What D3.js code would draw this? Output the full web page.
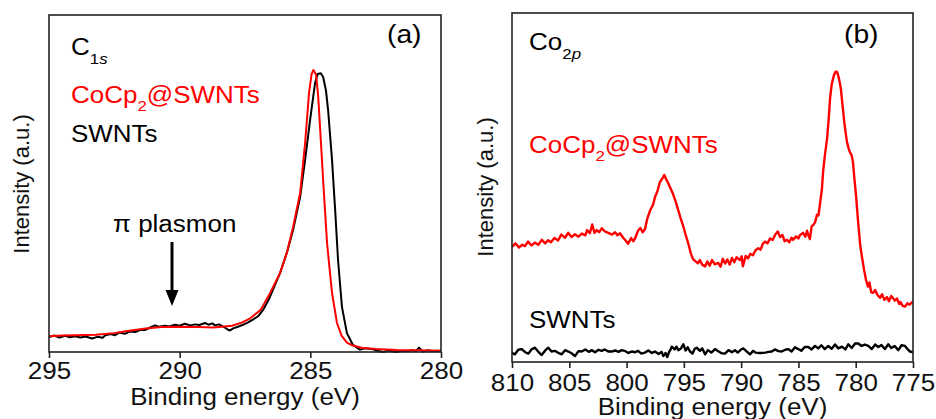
<!DOCTYPE html>
<html>
<head>
<meta charset="utf-8">
<script src="https://cdn.jsdelivr.net/npm/d3@7"></script>
<style>
  html, body { margin: 0; padding: 0; background: #fff; }
  svg { display: block; font-family: "Liberation Sans", Arial, sans-serif; }
  .tick text { fill: #111; }
</style>
</head>
<body>
<svg id="fig" width="936" height="419"></svg>
<script>
// ============================================================================
//  XPS spectra — (a) C1s, (b) Co2p — CoCp2@SWNTs vs SWNTs
//  values: [binding energy eV, intensity a.u.]
// ============================================================================
const ticksA = [295, 290, 285, 280];
const ticksB = [810, 805, 800, 795, 790, 785, 780, 775];

const c1sCoCp2 = [[295,4.7],[294.5,4.9],[294,5.0],[293.2,5.1],[292.5,5.6],[292,6.2],[291.3,7.0],[290.7,7.4],[290,7.5],
  [289.3,7.4],[288.7,7.3],[288,7.8],[287.6,8.8],[287.3,10.0],[286.9,12.5],[286.54,17.5],[286.16,23.4],[285.9,29.4],
  [285.66,37.1],[285.39,47.2],[285.2,62.0],[285.05,76.9],[284.95,82.5],[284.88,83.7],[284.78,82.3],[284.7,76],
  [284.63,66.8],[284.48,47.2],[284.36,32.3],[284.17,17.5],[283.98,8.6],[283.8,4.8],[283.6,2.8],[283.4,2.0],[283,1.2],
  [282.5,0.9],[281.7,0.6],[281,0.5],[280,0.4]];

const c1sSWNT = [[295,4.4],[294.8,4.9],[294.6,4.3],[294.39,4.8],[294.2,4.4],[294.0,4.7],[293.8,4.3],[293.6,4.6],
  [293.35,4.0],[293.15,4.5],[292.95,4.2],[292.86,4.9],[292.65,5.3],[292.47,5.0],[292.3,5.8],[292.1,5.4],[291.9,6.1],
  [291.7,5.9],[291.5,6.6],[291.33,6.5],[291.15,7.2],[290.94,7.9],[290.8,7.5],[290.56,7.8],[290.4,7.6],[290.18,8.1],
  [290.0,7.8],[289.8,8.4],[289.6,7.9],[289.41,8.2],[289.25,8.0],[289.03,8.6],[288.9,8.1],[288.75,8.5],[288.65,7.9],
  [288.5,8.2],[288.26,7.2],[288.15,6.6],[288.07,6.4],[287.95,7.0],[287.77,7.5],[287.6,8.0],[287.38,8.8],[287.2,9.6],
  [287.0,10.6],[286.8,12.6],[286.6,15.4],[286.4,19.0],[286.16,23.4],[285.9,29.4],[285.66,36.2],[285.39,46.0],
  [285.2,57.0],[285.01,68.8],[284.82,79.8],[284.72,82.5],[284.6,82.7],[284.51,81.6],[284.4,77.5],[284.32,71.8],
  [284.17,57.0],[284.05,42.1],[283.94,27.3],[283.79,13.4],[283.6,5.6],[283.37,2.1],[283.1,0.7],[282.9,1.1],
  [282.6,0.8],[282.4,0.3],[282.2,0.0],[282.0,0.4],[281.68,0.0],[281.5,0.4],[281.3,0.2],[281.1,0.5],[280.95,0.3],
  [280.84,1.3],[280.7,0.1],[280.5,0.5],[280.3,0.2],[280.15,0.4],[280,0.3]];

const co2pCoCp2 = [[810,33.0],[809.7,34.0],[809.4,32.8],[809.1,33.6],[808.87,33.2],[808.6,34.5],[808.3,33.4],[808.0,34.2],
  [807.7,33.6],[807.4,35.0],[807.1,34.0],[806.86,34.9],[806.6,34.3],[806.3,35.5],[805.98,34.8],[805.7,36.5],
  [805.37,35.6],[805.1,37.0],[804.8,35.8],[804.5,36.6],[804.2,35.9],[803.9,36.8],[803.6,36.3],[803.45,37.8],
  [803.2,36.9],[803.0,39.4],[802.8,37.0],[802.6,37.8],[802.4,37.2],[802.15,38.3],[801.9,37.4],[801.6,37.0],
  [801.27,36.5],[801.0,37.2],[800.8,36.3],[800.57,36.9],[800.3,35.6],[800.1,34.9],[799.87,33.9],[799.6,35.5],
  [799.4,34.6],[799.26,35.4],[799.0,37.6],[798.8,38.4],[798.6,37.2],[798.4,38.0],[798.2,41.0],[797.95,43.4],
  [797.7,45.0],[797.5,47.4],[797.3,49.0],[797.1,51.5],[796.9,52.5],[796.7,53.6],[796.55,52.4],[796.4,51.5],
  [796.2,50.0],[795.95,48.2],[795.7,45.8],[795.5,43.6],[795.3,41.4],[795.07,39.1],[794.85,36.5],[794.6,33.8],
  [794.4,31.2],[794.2,29.5],[794.0,28.9],[793.77,28.3],[793.6,29.2],[793.4,27.9],[793.15,27.4],[792.95,28.8],
  [792.75,27.6],[792.54,29.2],[792.3,28.0],[792.0,28.4],[791.8,27.3],[791.6,29.6],[791.4,28.2],[791.2,29.4],
  [791.0,27.9],[790.8,29.8],[790.6,28.6],[790.4,30.0],[790.1,29.2],[789.95,30.3],[789.85,27.4],[789.6,30.4],
  [789.4,29.7],[789.2,31.0],[788.97,30.6],[788.75,32.0],[788.5,32.6],[788.3,32.2],[788.1,33.9],[787.9,34.5],
  [787.7,34.0],[787.48,35.4],[787.25,35.0],[787.0,36.6],[786.8,37.4],[786.6,35.8],[786.4,36.4],[786.2,34.6],
  [786.0,35.0],[785.8,34.3],[785.6,35.6],[785.47,35.0],[785.2,36.0],[785.0,35.4],[784.86,36.4],[784.6,37.0],
  [784.4,35.9],[784.25,37.6],[784.1,36.0],[784.0,35.2],[783.85,38.8],[783.73,39.2],[783.55,40.0],[783.38,42.2],
  [783.25,42.0],[783.1,45.8],[782.95,49.5],[782.85,54.4],[782.7,59.0],[782.5,64.0],[782.35,70.0],[782.24,75.5],
  [782.1,79.5],[781.9,82.2],[781.75,83.2],[781.63,83.1],[781.5,81.8],[781.3,78.4],[781.15,73.5],[781.0,68.8],
  [780.85,65.0],[780.76,63.0],[780.6,61.0],[780.5,60.1],[780.35,59.2],[780.24,57.3],[780.1,52.0],[779.97,47.7],
  [779.8,40.5],[779.6,33.3],[779.45,30.0],[779.28,26.6],[779.1,23.5],[778.93,21.6],[778.8,22.8],[778.65,20.0],
  [778.5,19.8],[778.3,20.6],[778.1,19.2],[777.88,18.4],[777.7,19.4],[777.5,17.8],[777.27,18.6],[777.1,17.4],
  [776.9,18.9],[776.75,18.3],[776.6,17.6],[776.4,18.2],[776.2,16.6],[776.1,17.2],[775.9,16.1],[775.7,15.9],
  [775.5,16.8],[775.3,16.4],[775.1,17.1],[775,17.2]];

const co2pSWNT = [[810,2.6],[809.74,2.2],[809.45,3.5],[809.15,3.7],[808.85,2.8],[808.57,2.4],[808.3,3.6],[807.99,4.1],
  [807.7,2.9],[807.41,2.0],[807.1,3.3],[806.83,4.1],[806.55,3.0],[806.25,3.2],[805.95,2.6],[805.66,2.2],[805.37,3.4],
  [805.08,3.0],[804.8,2.5],[804.5,1.7],[804.2,3.1],[803.92,3.0],[803.6,3.6],[803.3,2.9],[803.04,3.4],[802.75,2.8],
  [802.45,3.5],[802.17,3.2],[801.9,3.6],[801.6,3.0],[801.3,3.0],[801.0,3.3],[800.7,2.9],[800.43,3.4],[800.1,3.1],
  [799.85,2.6],[799.55,3.0],[799.25,2.8],[799.0,3.2],[798.7,2.4],[798.39,2.7],[798.1,3.3],[797.8,2.6],[797.52,3.0],
  [797.2,2.3],[796.95,2.9],[796.79,1.7],[796.6,2.6],[796.45,1.4],[796.3,2.8],[796.15,3.6],[796.06,4.4],[795.8,3.6],
  [795.65,4.4],[795.48,3.4],[795.25,3.9],[795.05,5.1],[794.85,3.3],[794.66,4.2],[794.46,3.0],[794.25,2.4],[794.05,3.8],
  [793.88,4.1],[793.6,3.2],[793.4,3.9],[793.15,2.2],[792.9,3.4],[792.6,2.7],[792.28,3.7],[792.0,3.1],[791.7,2.5],
  [791.41,2.4],[791.1,3.4],[790.8,2.8],[790.54,3.4],[790.3,2.7],[790.0,3.6],[789.81,3.9],[789.5,3.0],[789.23,2.2],
  [788.95,3.2],[788.75,2.7],[788.5,2.6],[788.2,2.6],[787.9,2.7],[787.6,2.9],[787.33,3.0],[787.05,3.6],[786.75,3.1],
  [786.46,3.0],[786.15,3.5],[785.88,3.7],[785.6,3.0],[785.3,4.2],[785.01,3.7],[784.75,3.2],[784.45,4.3],
  [784.14,4.3],[783.85,3.6],[783.55,4.6],[783.27,3.9],[783.0,4.8],[782.7,3.7],[782.4,4.6],[782.1,3.8],[781.8,5.0],
  [781.52,3.9],[781.2,4.4],[780.9,3.6],[780.65,5.1],[780.35,4.0],[780.05,5.3],[779.77,5.3],[779.5,4.6],[779.2,5.0],
  [778.9,4.6],[778.6,3.7],[778.3,5.0],[778.03,4.3],[777.75,4.9],[777.45,3.7],[777.16,5.1],[776.9,4.0],[776.6,4.6],
  [776.28,3.4],[776.0,4.8],[775.7,4.6],[775.45,3.6],[775.26,3.0],[775,2.8]];

const RED = '#ff0000', INK = '#000';
const SX = 1.13;            // reference text is a little wider than plain Arial
const svg = d3.select('#fig');

// text helper: parts = [[string, {size, dy, italic}], ...]
function label(x, y, parts, fill, size) {
  const t = svg.append('text').attr('transform', `translate(${x},${y}) scale(${SX},1)`)
    .style('font-size', size + 'px').style('fill', fill);
  parts.forEach(p => {
    const o = p[1] || {};
    const s = t.append('tspan').text(p[0]);
    if (o.size) s.style('font-size', o.size + 'px');
    if (o.dy) s.attr('dy', o.dy);
    if (o.italic) s.style('font-style', 'italic');
  });
  return t;
}

// ============================================================================
//  one panel: frame, axis, curves
// ============================================================================
function panel(cfg) {
  const x = d3.scaleLinear(cfg.xDomain, [cfg.left, cfg.right]);
  const y = d3.scaleLinear([0, 100], [cfg.bottom, cfg.top]);
  const line = d3.line().x(d => x(d[0])).y(d => y(d[1]));

  cfg.series.forEach(s => {
    svg.append('path').datum(s.data).attr('fill', 'none').attr('stroke', s.color)
      .attr('stroke-width', s.width).attr('stroke-linejoin', 'round').attr('d', line);
  });

  svg.append('rect').attr('x', cfg.left).attr('y', cfg.top)
    .attr('width', cfg.right - cfg.left).attr('height', cfg.bottom - cfg.top)
    .attr('fill', 'none').attr('stroke', '#222').attr('stroke-width', 1.6);

  const ax = svg.append('g').attr('transform', `translate(0,${cfg.bottom})`)
    .call(d3.axisBottom(x).tickValues(cfg.ticks).tickSize(6).tickPadding(cfg.pad).tickFormat(d3.format('d')));
  ax.select('.domain').remove();
  ax.selectAll('.tick line').attr('stroke', '#222').attr('stroke-width', 1.6);
  ax.selectAll('.tick text').style('font-size', '23px').style('font-family', 'inherit')
    .attr('transform', `scale(${SX},1)`);

  label((cfg.left + cfg.right) / 2, cfg.titleY, [['Binding energy (eV)']], '#111', 23)
    .attr('text-anchor', 'middle');
  svg.append('text').attr('transform', `translate(${cfg.yLabelX},${cfg.yLabelY}) rotate(-90)`)
    .attr('text-anchor', 'middle').style('font-size', '22px').style('fill', '#111')
    .text('Intensity (a.u.)');
}

// ---------------------------------------------------------------------------- (a)
panel({
  left: 49, right: 441, top: 15, bottom: 352, xDomain: [295, 280], ticks: ticksA, pad: 5,
  titleY: 405, yLabelX: 29, yLabelY: 184,
  series: [{ data: c1sSWNT, color: INK, width: 2 }, { data: c1sCoCp2, color: RED, width: 2 }]
});
label(387, 43, [['(a)']], INK, 25);
label(71, 55, [['C'], ['1', { size: 15, dy: 9 }], ['s', { size: 15, italic: true }]], INK, 23);
label(71, 103, [['CoCp'], ['2', { size: 15, dy: 8 }], ['@SWNTs', { dy: -8 }]], RED, 23);
label(71, 142, [['SWNTs']], INK, 23);
label(113, 232, [['\u03c0 plasmon']], INK, 23);
svg.append('line').attr('x1', 172).attr('x2', 172).attr('y1', 242).attr('y2', 292)
  .attr('stroke', INK).attr('stroke-width', 3);
svg.append('path').attr('d', 'M165.5,290 L178.5,290 L172,306 Z').attr('fill', INK);

// ---------------------------------------------------------------------------- (b)
panel({
  left: 512, right: 913, top: 13, bottom: 362, xDomain: [810, 775], ticks: ticksB, pad: 7,
  titleY: 415, yLabelX: 493, yLabelY: 187,
  series: [{ data: co2pSWNT, color: INK, width: 2.4 }, { data: co2pCoCp2, color: RED, width: 2.4 }]
});
label(844, 43, [['(b)']], INK, 25);
label(529, 50, [['Co'], ['2', { size: 15, dy: 9 }], ['p', { size: 15, italic: true }]], INK, 23);
label(529, 153, [['CoCp'], ['2', { size: 15, dy: 8 }], ['@SWNTs', { dy: -8 }]], RED, 23);
label(529, 328, [['SWNTs']], INK, 23);
</script>
</body>
</html>
